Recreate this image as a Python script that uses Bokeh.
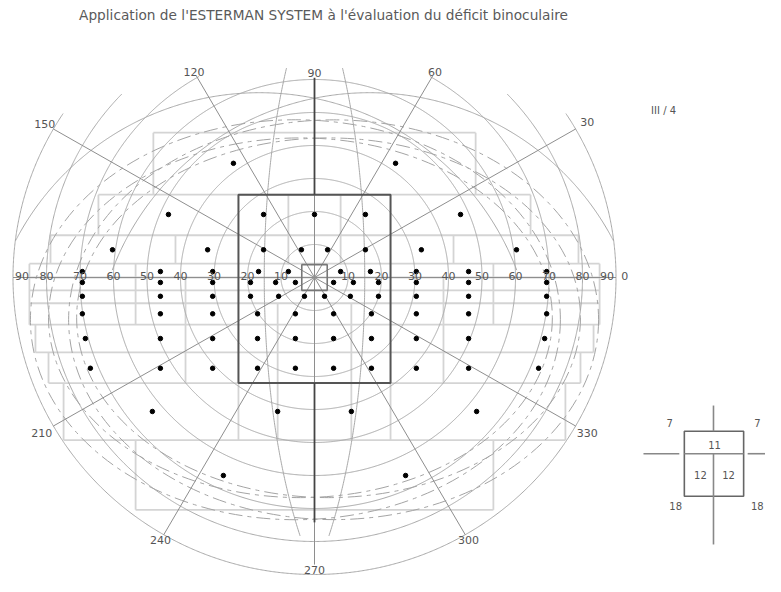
import numpy as np
from bokeh.plotting import figure
from bokeh.models import Range1d
from bokeh.core.properties import value
from bokeh.embed import file_html
from bokeh.resources import INLINE

# ---------------- texts ----------------
TITLE = "Application de l'ESTERMAN SYSTEM à l'évaluation du déficit binoculaire"
STIMULUS = "III / 4"

# ---------------- polar grid (degrees of visual field) ----------------
circle_deg = [10, 20, 30, 40, 50, 60, 70, 80, 90]
meridian_deg = [-15, 15]
radial_angle = [0, 30, 60, 90, 120, 150, 180, 210, 240, 270, 300, 330]
radial_len = [90, 90, 70.5, 60, 70.5, 90, 90, 90, 90, 87.0, 90, 90]

# large off-centre arcs of the upper field (centre x, centre y, radius x, radius y)
arc_cx = [-16.4, 16.4]
arc_cy = [-27.3, -27.3]
arc_rx = [82.1, 82.1]
arc_ry = [83.3, 83.3]

# scale labels along the horizontal meridian
scale_text = ["90", "80", "70", "60", "50", "40", "30", "20", "10",
              "10", "20", "30", "40", "50", "60", "70", "80", "90", "0"]
scale_pos = [-87.3, -80, -70, -60, -50, -40, -30, -20, -10,
             10, 20, 30, 40, 50, 60, 70, 80, 87.3, 92.6]

# angle labels
angle_text = ["30", "60", "90", "120", "150", "210", "240", "270", "300", "330"]
angle_deg = [30, 60, 90, 120, 150, 210, 240, 270, 300, 330]
angle_r = [94, 72, 62, 72, 93, 94, 92, 88.5, 92, 94]

# monocular field outlines (dash-dot ellipses), outer and inner isopters
field_cx = [-5.7, 5.7, -4.2, 4.2]
field_cy = [-12.8, -12.8, -12.2, -12.2]
field_w = [158.2, 158.2, 150.4, 150.4]
field_h = [121.2, 121.2, 109.0, 109.0]

# Esterman zones (light rectangles)
h_y = [43.9, 25.1, 12.8, 4.2, 0.0, -3.9, -7.8, -14.3, -22.7, -32.0, -49.3, -70.4]
h_x0 = [-48.1, -64.5, -78.8, -85.1, -85.1, -85.1, -85.1, -85.1, -83.3, -79.4, -74.9, -53.4]
h_x1 = [48.1, 64.5, 78.8, 85.1, 85.1, 85.1, 85.1, 85.1, 83.3, 79.4, 74.9, 53.4]

v_x = [-48.1, 48.1, -64.5, 64.5, -78.8, 78.8, -85.1, 85.1, -83.3, 83.3,
       -79.4, 79.4, -74.9, 74.9, -53.4, 53.4, -41.5, 41.5, -53.4, 53.4,
       -38.5, 38.5, -22.7, 22.7, -11.0, 11.0, -7.8, 7.8]
v_y0 = [43.9, 43.9, 25.1, 25.1, 12.8, 12.8, 4.2, 4.2, -14.3, -14.3,
        -22.7, -22.7, -32.0, -32.0, -49.3, -49.3, 12.8, 12.8, 4.2, 4.2,
        0.0, 0.0, -32.0, -32.0, -7.8, -7.8, 25.1, 25.1]
v_y1 = [25.1, 25.1, 12.8, 12.8, 4.2, 4.2, -14.3, -14.3, -22.7, -22.7,
        -32.0, -32.0, -49.3, -49.3, -70.4, -70.4, 4.2, 4.2, -14.3, -14.3,
        -32.0, -32.0, -49.3, -49.3, -49.3, -49.3, 3.9, 3.9]

# central 20-degree box and fixation box
central_box = dict(left=-22.7, right=22.7, top=25.1, bottom=-32.0)
fixation_box = dict(left=-3.8, right=3.8, top=3.9, bottom=-3.9)
thick_v_y0 = [25.1, -32.0]
thick_v_y1 = [60.5, -74.2]

# Esterman test points, row by row
dot_rows_y = [34.6, 19.1, 8.4, 1.8, -1.5, -5.7, -11.0, -18.5, -27.5, -40.6, -60.0]
dot_rows_x = [
    [-24.2, 24.2],
    [-43.6, -15.2, 0.0, 15.2, 43.6],
    [-60.3, -31.9, -15.2, -3.9, 3.9, 15.2, 31.9, 60.3],
    [-69.3, -46.0, -30.4, -16.7, -7.8, 7.8, 16.7, 30.4, 46.0, 69.3],
    [-69.3, -46.0, -30.4, -19.1, -11.6, -5.7, 5.7, 11.6, 19.1, 30.4, 46.0, 69.3],
    [-69.3, -46.0, -30.4, -19.1, -10.7, -3.0, 3.0, 10.7, 19.1, 30.4, 46.0, 69.3],
    [-69.3, -46.0, -30.4, -17.0, -5.7, 5.7, 17.0, 30.4, 46.0, 69.3],
    [-68.4, -46.0, -30.4, -17.0, -5.7, 5.7, 17.0, 30.4, 46.0, 68.7],
    [-66.9, -46.0, -30.4, -17.0, -5.7, 5.7, 17.0, 30.4, 46.0, 66.9],
    [-48.4, -11.0, 11.0, 48.4],
    [-27.2, 27.2],
]

# inset: weighting of quadrants
inset_box = dict(left=110.4, right=128.1, top=-46.6, bottom=-66.3)
inset_seg_x0 = [98.2, 110.4, 129.3, 119.1, 119.1]
inset_seg_x1 = [108.9, 128.1, 134.5, 119.1, 119.1]
inset_seg_y0 = [-53.4, -53.4, -53.4, -38.8, -53.4]
inset_seg_y1 = [-53.4, -53.4, -53.4, -46.6, -80.9]
inset_text = ["7", "7", "11", "12", "12", "18", "18"]
inset_tx = [106.0, 132.2, 119.4, 115.2, 123.6, 107.8, 132.2]
inset_ty = [-44.2, -44.2, -50.7, -59.7, -59.7, -69.3, -69.3]

# ---------------- geometry ----------------
SX, SY = 3.35, 3.30      # pixels per degree
W, H = 765, 576
CXP, CYP = 314, 277      # fixation point in figure pixels

def inside_top(X, Y):
    return Y <= 63.9 - 0.0025 * X ** 2

def runs(X, Y, mask):
    xs, ys = [], []
    start = None
    n = len(mask)
    for i in range(n):
        if mask[i] and start is None:
            start = i
        if start is not None and (not mask[i] or i == n - 1):
            end = i + 1 if mask[i] else i
            if end - start > 1:
                xs.append(list(X[start:end]))
                ys.append(list(Y[start:end]))
            start = None
    return xs, ys

p = figure(width=W, height=H,
           x_range=Range1d(-CXP / SX, (W - CXP) / SX),
           y_range=Range1d(-(H - CYP) / SY, CYP / SY),
           output_backend="svg", toolbar_location=None,
           x_axis_location=None, y_axis_location=None, min_border=0)
p.grid.visible = False
p.outline_line_color = None
p.background_fill_color = "white"

grid_col = "#a8a8a8"
zone_col = "#d4d4d4"

# Esterman zones
p.segment(x0=h_x0, y0=h_y, x1=h_x1, y1=h_y, line_color=zone_col, line_width=1.8)
p.segment(x0=v_x, y0=v_y0, x1=v_x, y1=v_y1, line_color=zone_col, line_width=1.8)

th = np.linspace(0, 2 * np.pi, 1441)

# concentric circles
cxs, cys = [], []
for r in circle_deg:
    X = r * np.cos(th)
    Y = r * np.sin(th)
    a, b = runs(X, Y, inside_top(X, Y))
    cxs += a
    cys += b
p.multi_line(cxs, cys, line_color=grid_col, line_width=1.0)

# meridians near the vertical
mxs, mys = [], []
phi = np.radians(np.arange(-78, 90.01, 0.5))
for L in meridian_deg:
    lam = np.radians(L)
    c = np.arccos(np.cos(phi) * np.cos(lam))
    k = c / np.sin(c)
    X = np.degrees(k * np.cos(phi) * np.sin(lam))
    Y = np.degrees(k * np.sin(phi))
    a, b = runs(X, Y, inside_top(X, Y))
    mxs += a
    mys += b
p.multi_line(mxs, mys, line_color=grid_col, line_width=1.0)

# large off-centre arcs (upper field only, inside the 90 degree circle)
axs, ays = [], []
for cx, cy, rx, ry in zip(arc_cx, arc_cy, arc_rx, arc_ry):
    X = cx + rx * np.cos(th)
    Y = cy + ry * np.sin(th)
    m = inside_top(X, Y) & (Y > 2) & (X ** 2 + Y ** 2 <= 90 ** 2)
    a, b = runs(X, Y, m)
    axs += a
    ays += b
p.multi_line(axs, ays, line_color=grid_col, line_width=1.0)

# monocular fields
p.ellipse(x=field_cx, y=field_cy, width=field_w, height=field_h,
          fill_alpha=0, line_color="#a4a4a4", line_width=1.0, line_dash="14 5 4 5")

# radial lines
ang = np.radians(radial_angle)
rl = np.array(radial_len)
p.segment(x0=[0] * len(ang), y0=[0] * len(ang), x1=rl * np.cos(ang), y1=rl * np.sin(ang),
          line_color="#8e8e8e", line_width=1.0)

# central box, thick meridian, fixation box
p.quad(fill_alpha=0, line_color="#555555", line_width=2.0, **{k: [v] for k, v in central_box.items()})
p.segment(x0=[0, 0], y0=thick_v_y0, x1=[0, 0], y1=thick_v_y1, line_color="#444444", line_width=1.8)
p.quad(fill_alpha=0, line_color="#777777", line_width=1.6, **{k: [v] for k, v in fixation_box.items()})

# test points
dx, dy = [], []
for yv, row in zip(dot_rows_y, dot_rows_x):
    dx += row
    dy += [yv] * len(row)
p.scatter(dx, dy, size=4.5, fill_color="black", line_color="black")

font = value("DejaVu Sans")
lab_col = "#555555"

# labels along horizontal
p.text(x=scale_pos, y=[0.4] * len(scale_pos), text=scale_text, text_font=font,
       text_font_size=value("11px"), text_align="center", text_baseline="middle",
       text_color=lab_col)

# angle labels
aa = np.radians(angle_deg)
ar = np.array(angle_r)
p.text(x=ar * np.cos(aa), y=ar * np.sin(aa), text=angle_text, text_font=font,
       text_font_size=value("11px"), text_align="center", text_baseline="middle",
       text_color=lab_col)

# title and stimulus
p.text(x=[2.7], y=[79.4], text=[TITLE], text_font=font, text_font_size=value("13.7px"),
       text_align="center", text_baseline="middle", text_color="#5a5a5a")
p.text(x=[104.2], y=[50.6], text=[STIMULUS], text_font=font, text_font_size=value("10px"),
       text_align="center", text_baseline="middle", text_color="#555555")

# inset
p.quad(fill_alpha=0, line_color="#666666", line_width=1.6, **{k: [v] for k, v in inset_box.items()})
p.segment(x0=inset_seg_x0, y0=inset_seg_y0, x1=inset_seg_x1, y1=inset_seg_y1,
          line_color="#888888", line_width=1.6)
p.text(x=inset_tx, y=inset_ty, text=inset_text, text_font=font, text_font_size=value("10px"),
       text_align="center", text_baseline="middle", text_color="#555555")

open("out.html", "w").write(file_html(p, INLINE))
